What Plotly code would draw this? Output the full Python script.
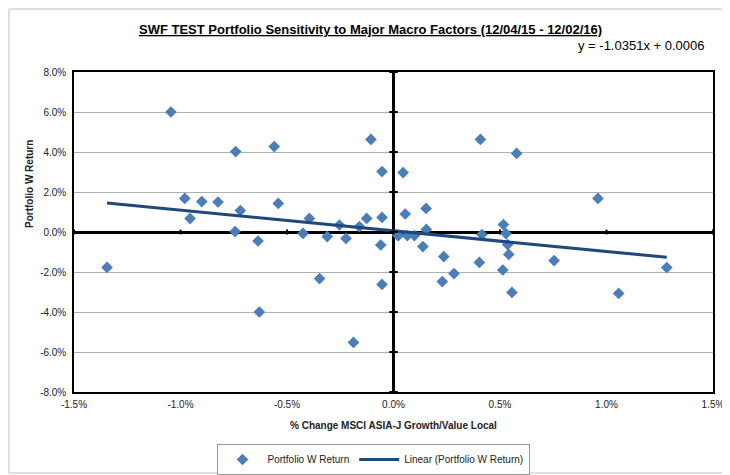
import plotly.graph_objects as go

# % change MSCI ASIA-J Growth/Value Local (x) and Portfolio W Return (y), in percent
x_change = [-1.045, -1.345, -0.980, -0.955, -0.900, -0.824, -0.741, -0.719, -0.744, -0.636,
            -0.560, -0.541, -0.425, -0.395, -0.311, -0.254, -0.223, -0.160, -0.126, -0.106,
            -0.054, -0.054, -0.060, 0.018, -0.347, -0.630, -0.188, -0.054,
            0.045, 0.408, 0.578, 0.960, 0.055, 0.153, 0.154, 0.516, 0.528, 0.415,
            0.023, 0.065, 0.098, 0.138, 0.536, 0.541, 0.236, 0.403, 0.754, 0.513,
            0.284, 0.229, 0.556, 1.057, 1.283]
y_return = [6.00, -1.77, 1.68, 0.67, 1.52, 1.50, 4.02, 1.07, 0.02, -0.45,
            4.27, 1.43, -0.07, 0.68, -0.23, 0.35, -0.32, 0.27, 0.68, 4.63,
            3.02, 0.73, -0.65, -0.15, -2.33, -4.00, -5.52, -2.62,
            2.97, 4.63, 3.93, 1.68, 0.90, 1.18, 0.13, 0.37, -0.08, -0.13,
            -0.18, -0.18, -0.18, -0.73, -0.63, -1.12, -1.23, -1.52, -1.43, -1.90,
            -2.08, -2.48, -3.02, -3.07, -1.78]

slope = -1.0351
intercept = 0.0006  # in fraction units

x_ticks = [-1.5, -1.0, -0.5, 0.0, 0.5, 1.0, 1.5]
y_ticks = [-8, -6, -4, -2, 0, 2, 4, 6, 8]
x_tick_labels = ["-1.5%", "-1.0%", "-0.5%", "0.0%", "0.5%", "1.0%", "1.5%"]
y_tick_labels = ["-8.0%", "-6.0%", "-4.0%", "-2.0%", "0.0%", "2.0%", "4.0%", "6.0%", "8.0%"]

FONT = "Liberation Sans Narrow, Arial Narrow, Liberation Sans, Arial, sans-serif"

x_lo, x_hi = min(x_change), max(x_change)
trend_x = [x_lo, x_hi]
trend_y = [(slope * (v / 100) + intercept) * 100 for v in trend_x]

# page body has an 8px margin; plot area should sit at x 74..713, y 72..392 in the window
PL, PR, PT, PB = 74, 713, 72, 392
PW, PH = PR - PL, PB - PT


def px(xp):
    return (xp - PL) / PW


def py(yp):
    return (PB - yp) / PH


fig = go.Figure()
fig.add_trace(go.Scatter(
    x=x_change, y=y_return, mode="markers", name="Portfolio W Return",
    marker=dict(symbol="diamond", size=9, color="#4A7EBB"),
))
fig.add_trace(go.Scatter(
    x=trend_x, y=trend_y, mode="lines", name="Linear (Portfolio W Return)",
    line=dict(color="#1F497D", width=3),
))

shapes = []
# small tick marks on the zero-crossing axes
for v in x_ticks:
    shapes.append(dict(type="line", xref="x", yref="y", x0=v, x1=v, y0=-0.12, y1=0.12,
                       line=dict(color="black", width=2), layer="above"))
for v in y_ticks:
    shapes.append(dict(type="line", xref="x", yref="y", x0=-0.02, x1=0.02, y0=v, y1=v,
                       line=dict(color="black", width=2), layer="above"))
# outer chart border
shapes.append(dict(type="rect", xref="paper", yref="paper",
                   x0=px(9), x1=px(728), y0=py(473), y1=py(9),
                   line=dict(color="#BFBFBF", width=1)))

fig.update_layout(
    width=722, height=467,
    margin=dict(l=PL - 8, r=722 - (PR - 8), t=PT - 8, b=467 - (PB - 8), autoexpand=False),
    paper_bgcolor="white", plot_bgcolor="white",
    font=dict(family=FONT, size=10, color="#222222"),
    showlegend=True,
    legend=dict(orientation="h", x=px(373), xanchor="center",
                y=py(444), yanchor="top", bordercolor="#999999", borderwidth=1,
                font=dict(family=FONT, size=10, color="#222222"),
                itemwidth=40),
    xaxis=dict(range=[-1.5, 1.5], tickvals=x_ticks, ticktext=x_tick_labels,
               showgrid=False, zeroline=True, zerolinecolor="black", zerolinewidth=3,
               showline=True, linecolor="black", linewidth=1.5, mirror=True,
               ticks="", tickfont=dict(size=10), automargin=False, ticklabelstandoff=2),
    yaxis=dict(range=[-8, 8], tickvals=y_ticks, ticktext=y_tick_labels,
               showgrid=True, gridcolor="#B0B0B0", gridwidth=1,
               zeroline=True, zerolinecolor="black", zerolinewidth=3,
               showline=True, linecolor="black", linewidth=1.5, mirror=True,
               ticks="", tickfont=dict(size=10), automargin=False, ticklabelstandoff=4),
    shapes=shapes,
    annotations=[
        dict(text="<u><b>SWF TEST Portfolio Sensitivity to Major Macro Factors (12/04/15 - 12/02/16)</b></u>",
             xref="paper", yref="paper", x=px(370), y=py(30),
             xanchor="center", yanchor="middle", showarrow=False,
             font=dict(family=FONT, size=13, color="black")),
        dict(text="y = -1.0351x + 0.0006", xref="paper", yref="paper",
             x=px(706), y=py(46), xanchor="right", yanchor="middle",
             showarrow=False, font=dict(family=FONT, size=13, color="black")),
        dict(text="<b>% Change MSCI ASIA-J Growth/Value Local</b>", xref="paper", yref="paper",
             x=px(393), y=py(425), xanchor="center", yanchor="middle",
             showarrow=False, font=dict(family=FONT, size=10, color="#222222")),
        dict(text="<b>Portfolio W Return</b>", xref="paper", yref="paper", textangle=-90,
             x=px(29), y=py(184), xanchor="center", yanchor="middle",
             showarrow=False, font=dict(family=FONT, size=10, color="#222222")),
    ],
)

fig.write_html("out.html")
